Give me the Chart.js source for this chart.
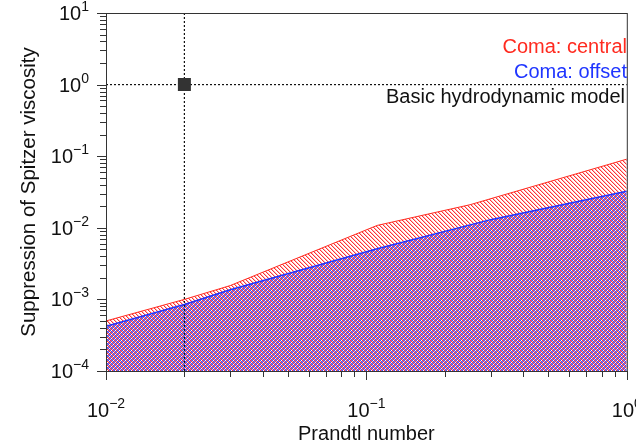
<!DOCTYPE html>
<html>
<head>
<meta charset="utf-8">
<script src="https://cdn.jsdelivr.net/npm/chart.js@4.4.0/dist/chart.umd.min.js"></script>
<style>
  html, body { margin: 0; padding: 0; background: #fff; }
  #wrap { width: 636px; height: 444px; }
</style>
</head>
<body>
<div id="wrap"><canvas id="viscChart" width="636" height="444"></canvas></div>
<script>
// Suppression of Spitzer viscosity against Prandtl number
const prandtlCentral = [0.01, 0.02, 0.03, 0.11, 0.25, 1];
const suppCentral = [5.0e-4, 1.0e-3, 1.56e-3, 1.08e-2, 2.1e-2, 9.1e-2];
const prandtlOffset = [0.01, 0.02, 0.03, 0.11, 0.3, 1];
const suppOffset = [4.2e-4, 8.5e-4, 1.36e-3, 5.1e-3, 1.3e-2, 3.25e-2];
const basicModel = [0.02, 1]; // [Prandtl, suppression]
const xDecades = [-2, -1, 0];
const yDecades = [-4, -3, -2, -1, 0, 1];
const legendLabels = ['Coma: central', 'Coma: offset', 'Basic hydrodynamic model'];

const RED = '#ff2a1f';
const BLUE = '#1f35ff';
const FONT = '"Liberation Sans", Arial, Helvetica, sans-serif';
const xMin = Math.pow(10, xDecades[0]), xMax = Math.pow(10, xDecades[xDecades.length - 1]);
const yMin = Math.pow(10, yDecades[0]), yMax = Math.pow(10, yDecades[yDecades.length - 1]);

// small repeating tiles for the hatched fills
function hatch(cross) {
  const c = document.createElement('canvas');
  c.width = 4; c.height = 4;
  const g = c.getContext('2d');
  for (let i = 0; i < 4; i++) {
    if (cross) {
      g.fillStyle = 'rgba(45,45,240,0.85)';
      g.fillRect(i, i, 1, 1);
      g.fillStyle = 'rgba(45,45,240,0.6)';
      g.fillRect(3 - i, i, 1, 1);
    } else {
      g.fillStyle = 'rgba(255,40,40,0.95)';
      g.fillRect((i + 2) % 4, i, 1, 1);
      g.fillStyle = 'rgba(255,60,60,0.35)';
      g.fillRect((i + 3) % 4, i, 1, 1);
    }
  }
  return g.createPattern(c, 'repeat');
}

function drawPow(ctx, exp, x, y, align) {
  const base = '10';
  const sup = exp < 0 ? '\u2212' + Math.abs(exp) : String(exp);
  ctx.font = '20px ' + FONT;
  const wb = ctx.measureText(base).width;
  ctx.font = '14px ' + FONT;
  const ws = ctx.measureText(sup).width;
  let left = align === 'center' ? x - (wb + ws) / 2 : x - (wb + ws);
  ctx.textAlign = 'left';
  ctx.textBaseline = 'alphabetic';
  ctx.font = '20px ' + FONT;
  ctx.fillText(base, left, y);
  ctx.font = '14px ' + FONT;
  ctx.fillText(sup, left + wb, y - 9);
}

const axisDecor = {
  id: 'axisDecor',
  afterDraw(chart) {
    const { ctx, chartArea: a, scales: { x, y } } = chart;
    ctx.save();
    ctx.strokeStyle = '#333';
    ctx.lineWidth = 1;
    ctx.strokeRect(a.left + 0.5, a.top + 0.5, a.right - a.left, a.bottom - a.top);

    // tick marks
    ctx.beginPath();
    for (let d = xDecades[0]; d <= xDecades[xDecades.length - 1]; d++) {
      for (let m = 1; m <= 9; m++) {
        const v = m * Math.pow(10, d);
        if (v > xMax * 1.0001) break;
        const px = Math.round(x.getPixelForValue(v)) + 0.5;
        ctx.moveTo(px, a.bottom);
        ctx.lineTo(px, a.bottom + (m === 1 ? 9 : 6));
      }
    }
    for (let d = yDecades[0]; d <= yDecades[yDecades.length - 1]; d++) {
      for (let m = 1; m <= 9; m++) {
        const v = m * Math.pow(10, d);
        if (v > yMax * 1.0001) break;
        const py = Math.round(y.getPixelForValue(v)) + 0.5;
        ctx.moveTo(a.left, py);
        ctx.lineTo(a.left - (m === 1 ? 9 : 6), py);
      }
    }
    ctx.stroke();

    // tick labels
    ctx.fillStyle = '#111';
    xDecades.forEach(d => drawPow(ctx, d, x.getPixelForValue(Math.pow(10, d)), 417, 'center'));
    yDecades.forEach(d => drawPow(ctx, d, 89, y.getPixelForValue(Math.pow(10, d)) + 7, 'right'));

    // axis titles
    ctx.font = '20px ' + FONT;
    ctx.textAlign = 'center';
    ctx.textBaseline = 'alphabetic';
    ctx.fillText('Prandtl number', (a.left + a.right) / 2, 440);
    ctx.save();
    ctx.translate(35, (a.top + a.bottom) / 2);
    ctx.rotate(-Math.PI / 2);
    ctx.font = '20.5px ' + FONT;
    ctx.fillText('Suppression of Spitzer viscosity', 0, 0);
    ctx.restore();

    // legend text
    ctx.textAlign = 'right';
    ctx.fillStyle = RED;
    ctx.fillText(legendLabels[0], 627, 53);
    ctx.fillStyle = BLUE;
    ctx.fillText(legendLabels[1], 627, 78);
    ctx.fillStyle = '#111';
    ctx.fillText(legendLabels[2], 625, 103);
    ctx.restore();
  }
};

const ctx = document.getElementById('viscChart').getContext('2d');
const viscChart = new Chart(ctx, {
  type: 'line',
  data: {
    datasets: [
      {
        label: legendLabels[2],
        type: 'scatter',
        data: [{ x: basicModel[0], y: basicModel[1] }],
        pointStyle: 'rect',
        pointRadius: 9.2,
        backgroundColor: '#333',
        borderColor: '#333',
        borderWidth: 0,
        order: 0
      },
      {
        label: 'vertical',
        data: [{ x: basicModel[0], y: yMin }, { x: basicModel[0], y: yMax }],
        borderColor: '#111',
        borderWidth: 1.2,
        borderDash: [2, 2],
        pointRadius: 0,
        fill: false,
        order: 1
      },
      {
        label: 'horizontal',
        data: [{ x: xMin, y: basicModel[1] }, { x: xMax, y: basicModel[1] }],
        borderColor: '#111',
        borderWidth: 1.2,
        borderDash: [2, 2],
        pointRadius: 0,
        fill: false,
        order: 1
      },
      {
        label: legendLabels[1],
        data: prandtlOffset.map((v, i) => ({ x: v, y: suppOffset[i] })),
        borderColor: BLUE,
        borderWidth: 1.5,
        backgroundColor: hatch(true),
        fill: 'start',
        pointRadius: 0,
        tension: 0,
        order: 2
      },
      {
        label: legendLabels[0],
        data: prandtlCentral.map((v, i) => ({ x: v, y: suppCentral[i] })),
        borderColor: RED,
        borderWidth: 1,
        backgroundColor: hatch(false),
        fill: 'start',
        pointRadius: 0,
        tension: 0,
        order: 3
      }
    ]
  },
  options: {
    responsive: false,
    animation: false,
    layout: { padding: { left: 106, right: 5, top: 13, bottom: 73 } },
    plugins: {
      legend: { display: false },
      tooltip: { enabled: false }
    },
    scales: {
      x: { type: 'logarithmic', min: xMin, max: xMax, display: false },
      y: { type: 'logarithmic', min: yMin, max: yMax, display: false }
    }
  },
  plugins: [axisDecor]
});
</script>
</body>
</html>
